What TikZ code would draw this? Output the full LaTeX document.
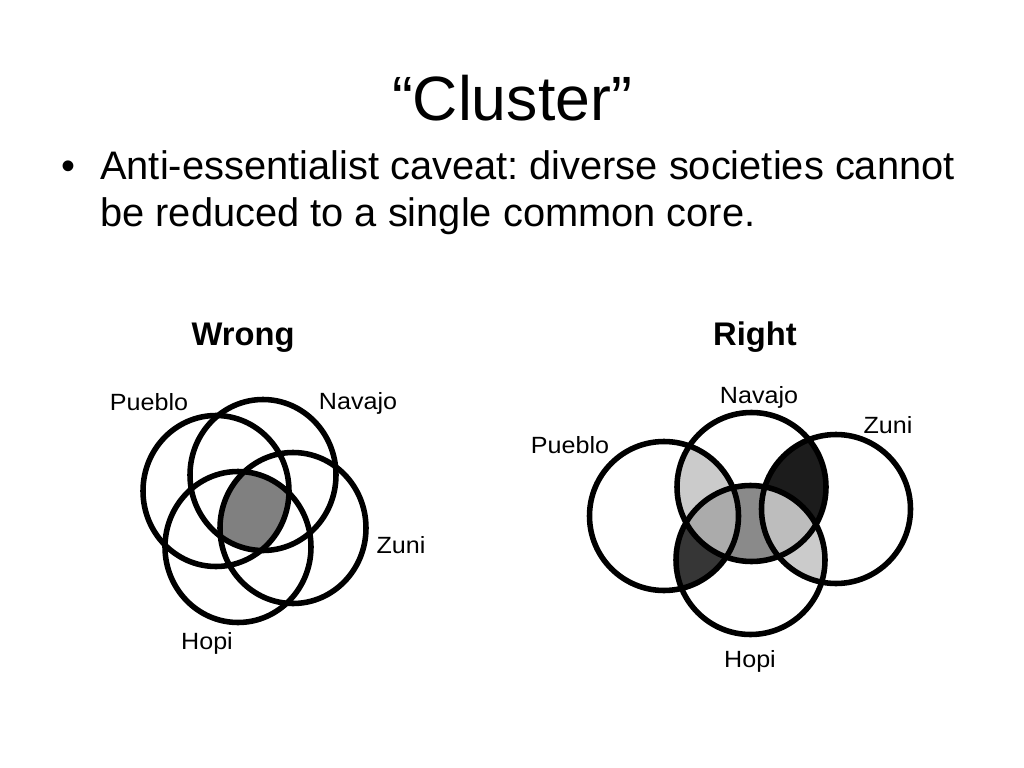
\documentclass[tikz,border=0pt]{standalone}
\usepackage{fontspec}
\setmainfont{Liberation Sans}
\newfontfamily\tribefont[FakeStretch=1.07]{Liberation Sans}
\definecolor{palefill}{HTML}{CBCBCB}
\definecolor{darkfill}{HTML}{1C1C1C}
\definecolor{duskfill}{HTML}{363636}
\definecolor{midfill}{HTML}{8A8A8A}
\definecolor{leftfill}{HTML}{ABABAB}
\definecolor{rightfill}{HTML}{BDBDBD}
\definecolor{corefill}{HTML}{808080}
\frenchspacing
\tikzset{
    ring/.style={draw=black, line width=3.9pt},
    tribe/.style={
        font={\tribefont\fontsize{16.5pt}{20}\selectfont},
        anchor=base, inner sep=0pt
    },
    heading/.style={
        font={\fontsize{23pt}{27}\selectfont\bfseries},
        anchor=base, inner sep=0pt
    },
    bodyline/.style={
        font={\fontsize{28pt}{33}\selectfont},
        anchor=base west, inner sep=0pt
    },
    wrongsize/.style={x radius=73, y radius=75.5},
    rightsize/.style={radius=74.5},
}

\begin{document}
\begin{tikzpicture}[x=0.703125pt, y=-0.703125pt]

\useasboundingbox (0,0) rectangle (1024,768);
\fill [white] (0,0) rectangle (1024,768);

\node [font={\fontsize{44pt}{53}\selectfont}, anchor=base, inner sep=0pt] (title) at (512,121) {“Cluster”};
\node [bodyline, anchor=base] (bullet) at (68,180) {•};
\node [bodyline] (line-1) at (100,180) {Anti-essentialist caveat: diverse societies cannot};
\node [bodyline] (line-2) at (100,227) {be reduced to a single common core.};

\foreach \l/\x in {Wrong/243, Right/755}
  \node [heading] (head-\l) at (\x,346) {\l};

% circle centres
\foreach \n/\cx/\cy in {pueblo/216/491, navajo/263/475, zuni/293/528, hopi/238/547}
  \coordinate (wrong-\n) at (\cx,\cy);
\foreach \n/\cx/\cy in {pueblo/664/516, navajo/751.5/487, zuni/836/509, hopi/750.5/560}
  \coordinate (right-\n) at (\cx,\cy);

% wrong: one core shared by all
\begin{scope}
  \clip (wrong-pueblo) circle [wrongsize];
  \clip (wrong-navajo) circle [wrongsize];
  \clip (wrong-zuni) circle [wrongsize];
  \fill [corefill] (wrong-hopi) circle [wrongsize];
\end{scope}

% right: pairwise overlaps, then triples
\foreach \a/\b/\f in {pueblo/navajo/palefill, navajo/zuni/darkfill, pueblo/hopi/duskfill,
    zuni/hopi/palefill, navajo/hopi/midfill}
{
  \begin{scope}
    \clip (right-\a) circle [rightsize];
    \fill [fill=\f] (right-\b) circle [rightsize];
  \end{scope}
}

\foreach \a/\f in {pueblo/leftfill, zuni/rightfill}
{
  \begin{scope}
    \clip (right-\a) circle [rightsize];
    \clip (right-navajo) circle [rightsize];
    \fill [fill=\f] (right-hopi) circle [rightsize];
  \end{scope}
}

\foreach \n in {pueblo, navajo, zuni, hopi}
{
  \draw [ring] (wrong-\n) circle [wrongsize];
  \draw [ring] (right-\n) circle [rightsize];
}

\foreach \n/\l/\x/\y in {pueblo/Pueblo/149/410, navajo/Navajo/358/409,
    zuni/Zuni/401/553, hopi/Hopi/207/649}
  \node [tribe] (wrong-\n-label) at (\x,\y) {\l};

\foreach \n/\l/\x/\y in {pueblo/Pueblo/570/453, navajo/Navajo/759/403,
    zuni/Zuni/888/433, hopi/Hopi/750/667}
  \node [tribe] (right-\n-label) at (\x,\y) {\l};

\end{tikzpicture}
\end{document}
